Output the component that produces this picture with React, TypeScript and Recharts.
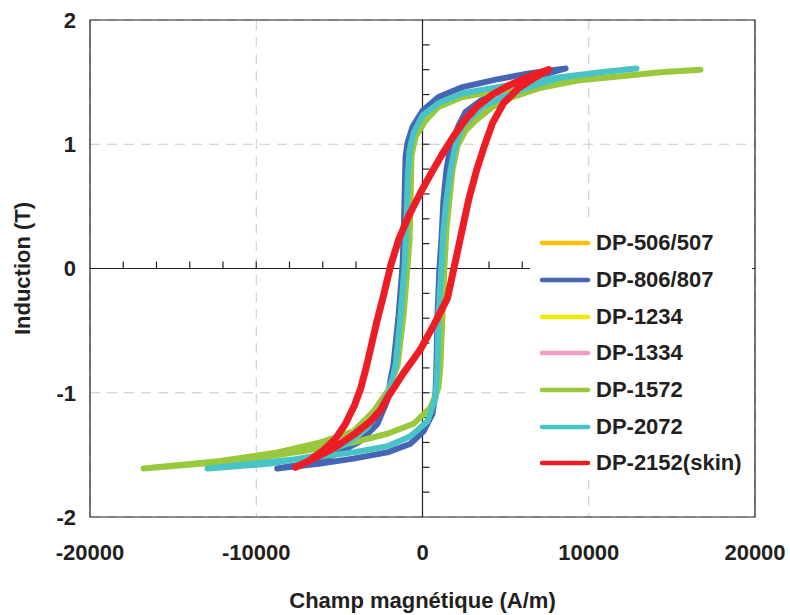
import React from "react";
import {
  ScatterChart,
  Scatter,
  XAxis,
  YAxis,
  CartesianGrid,
  ReferenceLine,
  ReferenceArea,
  Legend,
} from "recharts";

const FONT = "'Liberation Sans', Arial, Helvetica, sans-serif";

// axis ticks
const xTicks = [-20000, -10000, 0, 10000, 20000];
const yTicks = [-2, -1, 0, 1, 2];
const xMinorTicks = [
  -18000, -16000, -14000, -12000, -10000, -8000, -6000, -4000, -2000,
  2000, 4000, 6000, 8000, 10000, 12000, 14000, 16000, 18000,
];
const yMinorTicks = [
  -1.8, -1.6, -1.4, -1.2, -1, -0.8, -0.6, -0.4, -0.2,
  0.2, 0.4, 0.6, 0.8, 1, 1.2, 1.4, 1.6, 1.8,
];

// hysteresis loops [H (A/m), B (T)] : upper tip -> descending branch -> lower tip -> ascending branch
const dp806Loop: [number, number][] = [
  [8610, 1.61], [6390, 1.57], [4400, 1.52], [2410, 1.46], [960, 1.38], [0, 1.27],
  [-600, 1.14], [-900, 1.01], [-1020, 0.9], [-1080, 0.55], [-1140, 0.23], [-1200, 0.02],
  [-1440, -0.38], [-1750, -0.78], [-1930, -0.9], [-2110, -1.06], [-2710, -1.25],
  [-3740, -1.39], [-5120, -1.49], [-6930, -1.57], [-8740, -1.61],
  [-6140, -1.57], [-4150, -1.53], [-2110, -1.48], [-720, -1.41], [60, -1.31],
  [600, -1.17], [780, -1.01], [840, -0.78], [900, -0.38], [1020, 0], [1140, 0.23],
  [1260, 0.55], [1440, 0.79], [1680, 0.99], [2170, 1.15], [2590, 1.26], [3490, 1.35],
  [4870, 1.44], [6500, 1.53], [8610, 1.61],
];

const dp1572Loop: [number, number][] = [
  [16720, 1.6], [14320, 1.58], [11310, 1.54], [8300, 1.5], [5890, 1.45], [4090, 1.42],
  [2410, 1.38], [960, 1.3], [180, 1.19], [-420, 1.06], [-660, 0.91], [-720, 0.55],
  [-780, 0.23], [-900, 0.02], [-1140, -0.38], [-1500, -0.78], [-2050, -0.98],
  [-2950, -1.15], [-4150, -1.31], [-6140, -1.4], [-8720, -1.48], [-12150, -1.55],
  [-16780, -1.61],
  [-13170, -1.57], [-10170, -1.53], [-7160, -1.47], [-4150, -1.4], [-2110, -1.33],
  [-540, -1.25], [480, -1.12], [960, -0.96], [1080, -0.78], [1200, -0.38], [1320, 0.02],
  [1440, 0.31], [1620, 0.55], [1800, 0.79], [2110, 0.99], [2590, 1.11], [3190, 1.19],
  [4210, 1.3], [5410, 1.38], [6980, 1.45], [9620, 1.52], [11310, 1.54], [14320, 1.58],
  [16720, 1.6],
];

const dp2072Loop: [number, number][] = [
  [12870, 1.61], [10710, 1.58], [8300, 1.54], [5890, 1.49], [4090, 1.45], [2410, 1.41],
  [960, 1.33], [0, 1.23], [-540, 1.09], [-780, 0.95], [-900, 0.71], [-960, 0.39],
  [-1080, 0.02], [-1320, -0.38], [-1620, -0.78], [-1980, -0.98], [-2530, -1.13],
  [-3310, -1.28], [-4510, -1.41], [-6560, -1.51], [-9140, -1.57], [-12930, -1.61],
  [-10170, -1.57], [-7160, -1.53], [-4150, -1.48], [-2110, -1.43], [-720, -1.35],
  [300, -1.23], [780, -1.04], [900, -0.78], [960, -0.38], [1140, 0.02], [1260, 0.31],
  [1440, 0.55], [1680, 0.79], [1980, 0.99], [2410, 1.15], [3610, 1.3], [4810, 1.38],
  [6380, 1.46], [8420, 1.54], [10710, 1.58], [12870, 1.61],
];

const dp2152Loop: [number, number][] = [
  [7580, 1.6], [6500, 1.55], [5290, 1.48], [4210, 1.4], [3250, 1.3], [2470, 1.18],
  [1800, 1.05], [1140, 0.91], [540, 0.77], [-120, 0.61], [-840, 0.42], [-1440, 0.23],
  [-1920, 0.02], [-2350, -0.22], [-2770, -0.44], [-3130, -0.65], [-3430, -0.82],
  [-3730, -0.97], [-4090, -1.1], [-4630, -1.25], [-5230, -1.37], [-6020, -1.47],
  [-6860, -1.55], [-7640, -1.6],
  [-6560, -1.53], [-5530, -1.46], [-4930, -1.41], [-3970, -1.32], [-3130, -1.23],
  [-2530, -1.14], [-2110, -1.04], [-1620, -0.94], [-1140, -0.84], [-600, -0.74],
  [-120, -0.65], [660, -0.46], [1500, -0.24], [1920, 0.02], [2350, 0.29], [2770, 0.55],
  [3250, 0.79], [3730, 0.99], [4210, 1.17], [4870, 1.33], [5770, 1.45], [6800, 1.54],
  [7580, 1.6],
];

// series not visible in the plot (hidden under the others)
const hiddenLoop: [number, number][] = [];

const series = [
  { name: "DP-506/507", color: "#FFC000", loop: hiddenLoop },
  { name: "DP-806/807", color: "#4466B4", loop: dp806Loop },
  { name: "DP-1234", color: "#F2EA00", loop: hiddenLoop },
  { name: "DP-1334", color: "#F49AC4", loop: hiddenLoop },
  { name: "DP-1572", color: "#9AC83C", loop: dp1572Loop },
  { name: "DP-2072", color: "#48C4C6", loop: dp2072Loop },
  { name: "DP-2152(skin)", color: "#EE1C24", loop: dp2152Loop },
];

const toPoints = (loop: [number, number][]) => loop.map(([h, b]) => ({ h, b }));

const tickStyle = { fill: "#231F20", fontSize: 22, fontWeight: 700, fontFamily: FONT };

const LegendBox = () => (
  <div style={{ paddingTop: 1, fontFamily: FONT }}>
    {series.map((s) => (
      <div key={s.name} style={{ display: "flex", alignItems: "center", height: 36.7 }}>
        <svg width={66} height={8}>
          <line x1={12} y1={4} x2={58} y2={4} stroke={s.color} strokeWidth={4.5} strokeLinecap="round" />
        </svg>
        <span style={{ fontSize: 22, fontWeight: 700, color: "#231F20", lineHeight: "22px" }}>{s.name}</span>
      </div>
    ))}
  </div>
);

const YTitle = (props: any) => {
  const vb = props.viewBox;
  const cx = 22;
  const cy = vb.y + vb.height / 2;
  return (
    <text x={cx} y={cy} transform={`rotate(-90, ${cx}, ${cy})`} textAnchor="middle" dominantBaseline="central"
      fill="#231F20" fontSize={22} fontWeight={700} fontFamily={FONT}>
      Induction (T)
    </text>
  );
};

const XTitle = (props: any) => {
  const vb = props.viewBox;
  return (
    <text x={vb.x + vb.width / 2} y={600} textAnchor="middle" dominantBaseline="central"
      fill="#231F20" fontSize={22} fontWeight={700} fontFamily={FONT}>
      Champ magnétique (A/m)
    </text>
  );
};

export default function App() {
  return (
    <div style={{ position: "absolute", left: 0, top: 0, width: 790, height: 615, background: "#fff" }}>
      <ScatterChart width={790} height={615} margin={{ top: 20, right: 35, bottom: 0, left: 0 }}>
        <CartesianGrid stroke="#C8C8C8" strokeDasharray="10 7" />
        <XAxis
          type="number"
          dataKey="h"
          domain={[-20000, 20000]}
          ticks={xTicks}
          height={98}
          axisLine={false}
          tickLine={false}
          tickSize={0}
          tickMargin={27}
          tick={tickStyle}
          label={XTitle}
        />
        <YAxis
          type="number"
          dataKey="b"
          domain={[-2, 2]}
          ticks={yTicks}
          width={90}
          axisLine={false}
          tickLine={false}
          tickSize={0}
          tickMargin={14}
          tick={tickStyle}
          label={YTitle}
        />
        <ReferenceArea x1={-20000} x2={20000} y1={-2} y2={2} fill="none" stroke="#231F20" strokeWidth={1.2} />
        <ReferenceLine y={0} stroke="#231F20" strokeWidth={1.2} />
        <ReferenceLine x={0} stroke="#231F20" strokeWidth={1.2} />
        {xMinorTicks.map((t) => (
          <ReferenceLine key={`xt${t}`} segment={[{ x: t, y: 0 }, { x: t, y: 0.056 }]} stroke="#231F20" strokeWidth={1.2} />
        ))}
        {yMinorTicks.map((t) => (
          <ReferenceLine key={`yt${t}`} segment={[{ x: 0, y: t }, { x: 420, y: t }]} stroke="#231F20" strokeWidth={1.2} />
        ))}
        {series.map((s) => (
          <Scatter
            key={s.name}
            name={s.name}
            data={toPoints(s.loop)}
            fill={s.color}
            line={{ stroke: s.color, strokeWidth: s.name.includes("2152") ? 7 : 6, strokeLinejoin: "round", strokeLinecap: "round" }}
            lineType="joint"
            shape={() => <g />}
            isAnimationActive={false}
          />
        ))}
        <Legend
          layout="horizontal"
          verticalAlign="middle"
          align="center"
          wrapperStyle={{ left: 530, top: 224, width: 222, height: 256, background: "#fff" }}
          content={() => <LegendBox />}
        />
      </ScatterChart>
    </div>
  );
}
